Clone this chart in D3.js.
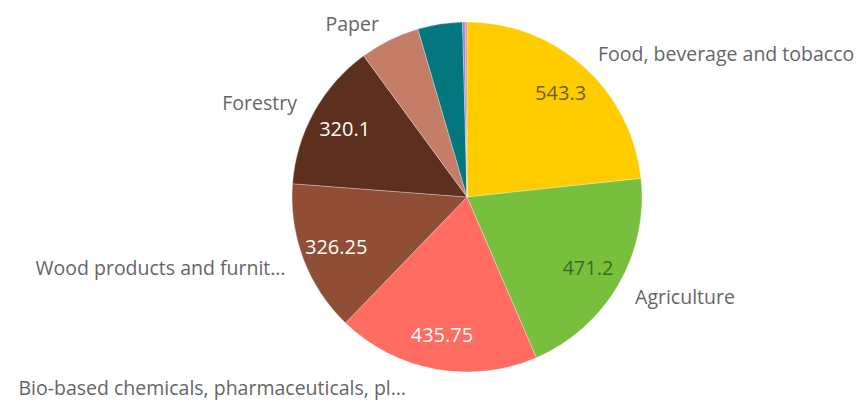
<!DOCTYPE html>
<html><head><meta charset="utf-8">
<script src="https://cdn.jsdelivr.net/npm/d3@7"></script>
<style>body{margin:0;background:#fff}svg{display:block}</style>
</head><body>
<svg id="c" width="864" height="400"></svg>
<script>
const categories = ["Food, beverage and tobacco","Agriculture","Bio-based chemicals, pharmaceuticals, plastics and rubber","Wood products and furniture","Forestry","Paper","Bio-based textiles","Liquid biofuels","Bio-based electricity"];
const values = [543.3, 471.2, 435.75, 326.25, 320.1, 129, 96, 5.5, 4];
const colors = ["#ffcc00","#78bf3e","#fe6c62","#8f4e35","#5d2f1f","#c47d67","#04767e","#8f82d6","#ea80a6"];
const displayNames = ["Food, beverage and tobacco","Agriculture","Bio-based chemicals, pharmaceuticals, pl…","Wood products and furnit…","Forestry","Paper","","",""];
const showValue = [true,true,true,true,true,false,false,false,false];
const valueColor = ["#6e5c12","#3f6a24","#fff","#fff","#fff","#fff","#fff","#fff","#fff"];

const svg = d3.select("#c");
const cx = 467, cy = 197, R = 175;
const font = "'Open Sans', Lato, sans-serif";
const g = svg.append("g").attr("transform", `translate(${cx},${cy})`);
const data = categories.map((c,i)=>({name:c, value:values[i], color:colors[i], i}));
const pie = d3.pie().sort(null).value(d=>d.value);
const arcs = pie(data);
const arc = d3.arc().innerRadius(0).outerRadius(R);
g.selectAll("path").data(arcs).join("path")
  .attr("d", arc).attr("fill", d=>d.data.color)
  .attr("stroke", "#fff").attr("stroke-width", 0.3);

const valArc = d3.arc().innerRadius(140).outerRadius(140);
g.selectAll("text.v").data(arcs.filter(d=>showValue[d.data.i])).join("text")
  .attr("class","v")
  .attr("transform", d=>`translate(${valArc.centroid(d)})`)
  .attr("text-anchor","middle").attr("dy","0.35em")
  .attr("font-family",font).attr("font-size",20)
  .attr("fill", d=>valueColor[d.data.i])
  .text(d=>d.data.value);

const lblArc = d3.arc().innerRadius(190).outerRadius(190);
g.selectAll("text.n").data(arcs.filter(d=>displayNames[d.data.i])).join("text")
  .attr("class","n")
  .each(function(d){
    let [x,y] = lblArc.centroid(d);
    const mid = (d.startAngle+d.endAngle)/2;
    const right = mid < Math.PI;
    // labels near the bottom are pushed sideways
    if (Math.abs(mid - Math.PI) < 0.3) x -= 23;
    d3.select(this).attr("x", x + (right?4:-4)).attr("y", y + (y > 0 ? 4 : -2))
      .attr("text-anchor", right?"start":"end");
  })
  .attr("dy","0.35em")
  .attr("font-family",font).attr("font-size",19.5)
  .attr("fill","#666")
  .text(d=>displayNames[d.data.i]);
</script>
</body></html>
